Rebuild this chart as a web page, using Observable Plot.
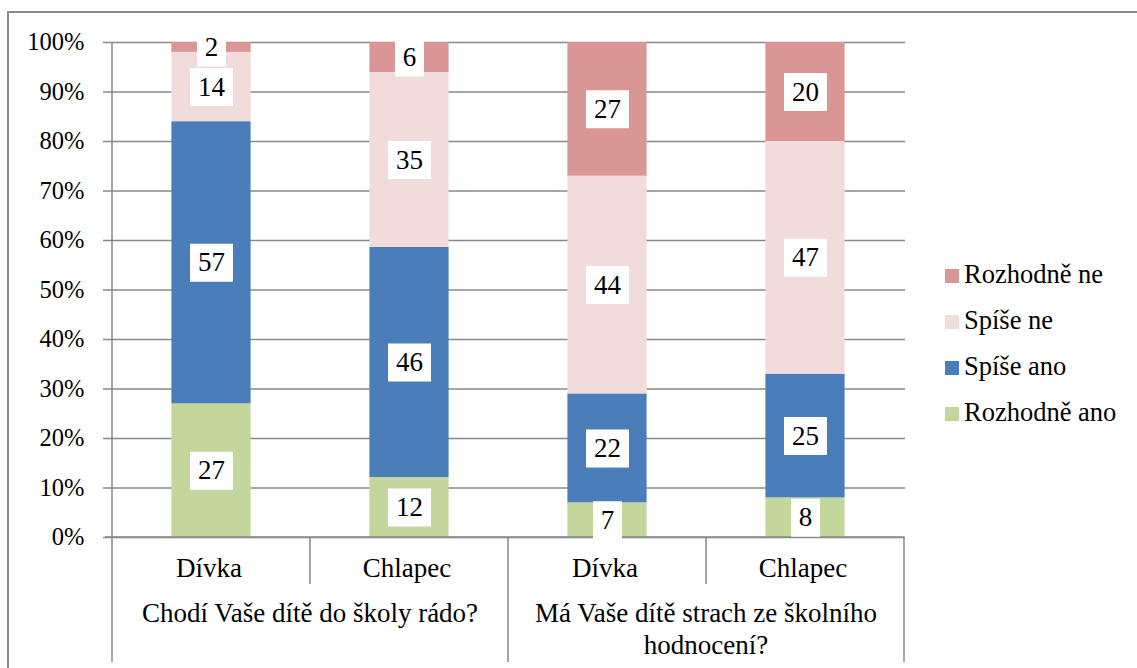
<!DOCTYPE html>
<html>
<head>
<meta charset="utf-8">
<script src="https://cdn.jsdelivr.net/npm/d3@7"></script>
<script src="https://cdn.jsdelivr.net/npm/@observablehq/plot@0.6"></script>
</head>
<body style="margin:0;background:#fff;font-family:'Liberation Serif',serif">
<div id="wrap" style="position:relative;width:1137px;height:668px;overflow:hidden;font-family:'Liberation Serif',serif"><div id="frame" style="position:absolute;left:7px;top:11px;width:1200px;height:700px;border-left:2px solid #8c8c8c;border-top:2px solid #8c8c8c;pointer-events:none"></div></div>
<script>
// ---- data ----
const questions = ["Chodí Vaše dítě do školy rádo?", "Má Vaše dítě strach ze školního\nhodnocení?"];
const genders = ["Dívka", "Chlapec"];
const barKeys = ["Q1|Dívka", "Q1|Chlapec", "Q2|Dívka", "Q2|Chlapec"];
const categories = ["Rozhodně ano", "Spíše ano", "Spíše ne", "Rozhodně ne"];
const colors = ["#C3D69B", "#4A7EBB", "#F2DCDB", "#D99694"];
const q1Divka = [27, 57, 14, 2];
const q1Chlapec = [12, 46, 35, 6];
const q2Divka = [7, 22, 44, 27];
const q2Chlapec = [8, 25, 47, 20];
const yTicks = [0, 0.1, 0.2, 0.3, 0.4, 0.5, 0.6, 0.7, 0.8, 0.9, 1];

const series = [q1Divka, q1Chlapec, q2Divka, q2Chlapec];
const data = [];
series.forEach((vals, bi) => vals.forEach((v, ci) => data.push({key: barKeys[bi], cat: categories[ci], value: v})));

const GRAY = "#898989";
const FONT_AXIS = 24.5;
const FONT_CAT = 27;
const FONT_LABEL = 27;
const FONT_LEGEND = 26.5;
const FAMILY = "'Liberation Serif', serif";

// white label box symbols
const boxSym = w => ({draw(ctx) { ctx.rect(-w / 2, -19, w, 38); }});
const wideBox = boxSym(43), narrowBox = boxSym(29);

const stackOpts = extra => Plot.stackY({x: "key", y: "value", z: "cat", order: categories, offset: "normalize", ...extra});

function categoryAxis(index, scales, values, dims) {
  const x = scales.x, y = scales.y;
  const bw = x.bandwidth ? x.bandwidth() : (dims.width - dims.marginLeft - dims.marginRight) / barKeys.length;
  const y0 = y(0), yTop = y(1);
  const g = d3.create("svg:g").attr("font-family", FAMILY);
  const line = (x1, y1, x2, y2) => g.append("line").attr("x1", x1).attr("y1", y1).attr("x2", x2).attr("y2", y2)
    .attr("stroke", GRAY).attr("stroke-width", 1.5);
  const left = x(barKeys[0]);
  const right = x(barKeys[barKeys.length - 1]) + bw;
  line(left - 7, y0, right, y0);
  line(left, yTop, left, y0 + 125);
  line(x(barKeys[2]), y0, x(barKeys[2]), y0 + 125);
  line(right, y0, right, y0 + 125);
  line(x(barKeys[1]), y0, x(barKeys[1]), y0 + 47);
  line(x(barKeys[3]), y0, x(barKeys[3]), y0 + 47);
  barKeys.forEach((k, i) => {
    g.append("text").attr("x", x(k) + bw / 2 - 2).attr("y", y0 + 40).attr("text-anchor", "middle")
      .attr("font-size", FONT_CAT).attr("fill", "#000").text(genders[i % 2]);
  });
  questions.forEach((q, qi) => {
    const cx = x(barKeys[qi * 2]) + bw;
    const t = g.append("text").attr("text-anchor", "middle").attr("font-size", FONT_CAT).attr("fill", "#000");
    q.split("\n").forEach((ln, li) => {
      t.append("tspan").attr("x", cx).attr("y", y0 + 85 + li * 32).text(ln);
    });
  });
  return g.node();
}

const chart = Plot.plot({
  width: 1137,
  height: 668,
  marginLeft: 110,
  marginRight: 232,
  marginTop: 42,
  marginBottom: 131,
  style: {fontFamily: FAMILY, fontSize: FONT_AXIS + "px", background: "transparent", color: "#000"},
  x: {type: "band", domain: barKeys, padding: 0, axis: null},
  y: {domain: [0, 1], axis: null},
  color: {domain: categories, range: colors},
  marks: [
    Plot.gridY(yTicks, {stroke: GRAY, strokeOpacity: 1, strokeWidth: 1.5}),
    Plot.barY(data, stackOpts({fill: "cat", insetLeft: 59.4, insetRight: 59.4})),
    categoryAxis,
    Plot.dot(data, stackOpts({symbol: d => d.value >= 10 ? wideBox : narrowBox, r: 1, fill: "white", stroke: null})),
    Plot.text(data, stackOpts({text: d => String(d.value), fontSize: FONT_LABEL, fill: "#000", fontFamily: FAMILY})),
    Plot.axisY(yTicks, {tickFormat: d => Math.round(d * 100) + "%", tickSize: 7, tickPadding: 19, stroke: GRAY, strokeWidth: 1.5, fontSize: FONT_AXIS, fontFamily: FAMILY, label: null})
  ]
});
chart.style.fontFamily = FAMILY;
chart.querySelectorAll("text").forEach(t => t.setAttribute("font-family", FAMILY));

const wrap = document.getElementById("wrap");
wrap.insertBefore(chart, wrap.firstChild);

// legend (top to bottom: reverse of stacking order)
const legendCats = categories.slice().reverse();
const legendColors = colors.slice().reverse();
legendCats.forEach((c, i) => {
  const sw = document.createElement("div");
  sw.style.cssText = `position:absolute;left:945px;top:${269 + 46 * i}px;width:14px;height:14px;background:${legendColors[i]}`;
  wrap.appendChild(sw);
  const t = document.createElement("div");
  t.style.cssText = `position:absolute;left:964px;top:${261 + 46 * i}px;font-size:${FONT_LEGEND}px;line-height:26px;white-space:nowrap;color:#000;font-family:${FAMILY}`;
  t.textContent = c;
  wrap.appendChild(t);
});
</script>
</body>
</html>
